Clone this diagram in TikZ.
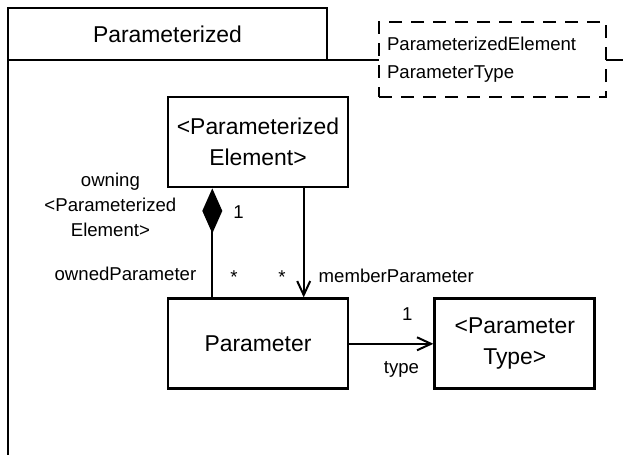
\documentclass[tikz,border=0pt]{standalone}
\usepackage{fontspec}
\setmainfont{Liberation Sans}
\usetikzlibrary{positioning, arrows.meta, calc}

\begin{document}
\begin{tikzpicture}[
    x=1pt, y=-1pt,
    tab/.style={
        rectangle, draw=black, line width=2pt, outer sep=0pt,
        minimum width=319pt, minimum height=52pt,
        font=\fontsize{22.9}{31}\selectfont
    },
    frame/.style={line width=2pt, black},
    tmpl/.style={
        rectangle, draw=black, fill=white, line width=1.6pt,
        dash pattern=on 13pt off 9pt,
        text width=211pt, inner xsep=8pt, minimum height=75pt,
        align=left, font=\fontsize{18.6}{28}\selectfont
    },
    cls/.style={
        rectangle, draw=black, line width=2.8pt,
        minimum width=180pt, minimum height=90pt,
        align=center, font=\fontsize{22.9}{31}\selectfont
    },
    comp/.style={line width=2pt, {Diamond[length=45pt, width=20pt]}-},
    assoc/.style={line width=2pt, -{Straight Barb[length=14pt, width=13pt]}},
    lbl/.style={font=\fontsize{18.6}{25}\selectfont, inner sep=0pt, align=center},
]
\useasboundingbox (0,0) rectangle (623,455);

% Package frame
\node[tab] (pkg) at (167.5,34) {Parameterized};
\coordinate (bodyR) at (623,60);
\coordinate (bodyB) at (8,455);
\draw[frame] (bodyR) -- (pkg.south west) -- (bodyB);

% Template parameters, sitting on the frame line
\node[tmpl] (tpar) at (492.5,59.5) {ParameterizedElement\\ParameterType};

% Classes
\node[cls] (elem) at (258,142) {<Parameterized\\Element>};
\node[cls, below=109pt of elem] (param) {Parameter};
\node[cls, minimum width=160pt, right=84pt of param] (ptype) {<Parameter\\Type>};

% Composition (owning side)
\draw[comp] ($(elem.south west)!0.25!(elem.south east)$)
    -- node[lbl, pos=0.22, right=20pt] {1}
       node[lbl, pos=0.81, right=17pt] {*}
       node[lbl, pos=0.78, left=15pt] {ownedParameter}
       node[lbl, pos=0.15, left=35pt] {owning\\<Parameterized\\Element>}
    ($(param.north west)!0.25!(param.north east)$);

% Member parameters
\draw[assoc] ($(elem.south west)!0.75!(elem.south east)$)
    -- node[lbl, pos=0.81, left=17pt] {*}
       node[lbl, pos=0.80, right=14pt] {memberParameter}
    ($(param.north west)!0.75!(param.north east)$);

% Type of a parameter
\draw[assoc] (param.east)
    -- node[lbl, pos=0.69, above=22pt] {1}
       node[lbl, pos=0.62, below=17pt] {type}
    (ptype.west);

\end{tikzpicture}
\end{document}
